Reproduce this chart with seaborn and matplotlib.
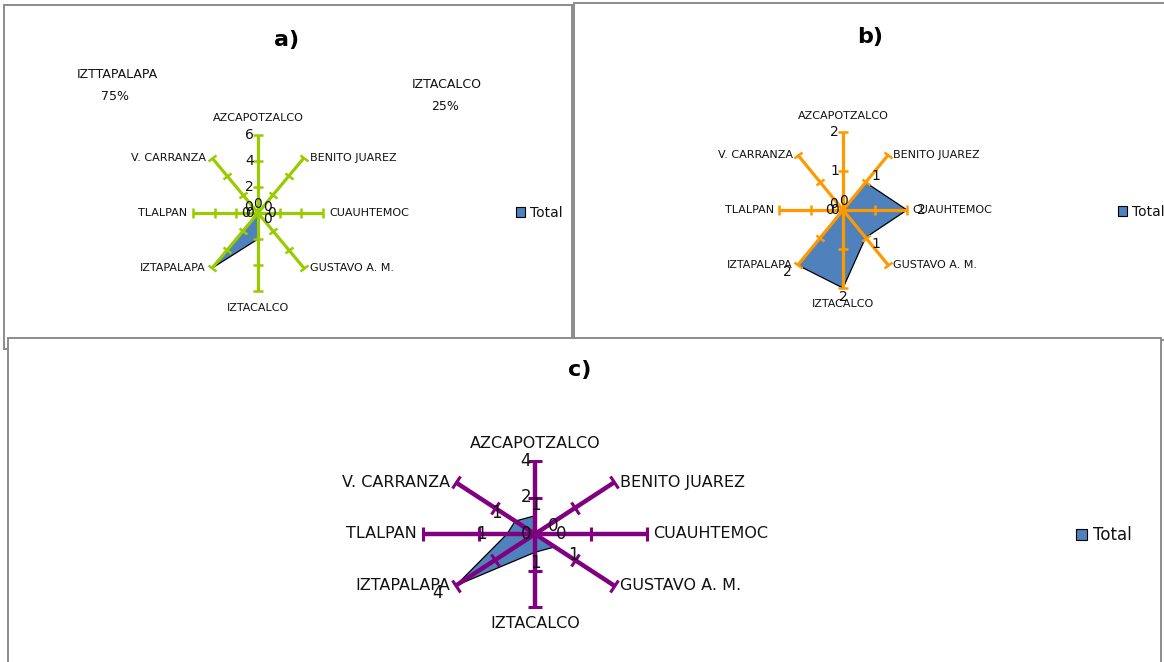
import numpy as np
import pandas as pd
import matplotlib
matplotlib.use("Agg")
import matplotlib.pyplot as plt
import seaborn as sns
from matplotlib.markers import MarkerStyle
from matplotlib.transforms import Affine2D
from matplotlib.patches import Rectangle, Patch

# Delegaciones (clockwise from the top)
categories = ["AZCAPOTZALCO", "BENITO JUAREZ", "CUAUHTEMOC", "GUSTAVO A. M.",
              "IZTACALCO", "IZTAPALAPA", "TLALPAN", "V. CARRANZA"]

# Totals per delegación for each panel
total_a = [0, 0, 0, 0, 2, 6, 0, 0]
total_b = [0, 1, 2, 1, 2, 2, 0, 0]
total_c = [1, 0, 0, 1, 1, 4, 1, 1]

# Radial value-axis ticks per panel
ticks_a = [0, 2, 4, 6]
ticks_b = [0, 1, 2]
ticks_c = [0, 2, 4]

# Detached data labels of panel a (share of the total)
share_names = ["IZTTAPALAPA", "IZTACALCO"]
share_pct = ["75%", "25%"]

W, H = 1164, 662
FILL = "#4F81BD"
INK = "#111111"

sns.set_theme(style="white")
plt.rcParams["font.family"] = ["DejaVu Sans"]

fig = plt.figure(figsize=(W / 100, H / 100), dpi=100)
fig.patch.set_facecolor("white")


def fbox(x0, y0, x1, y1):
    return [x0 / W, 1 - y1 / H, (x1 - x0) / W, (y1 - y0) / H]


def frame(x0, y0, x1, y1, z):
    fig.patches.append(Rectangle((x0 / W, 1 - y1 / H), (x1 - x0) / W, (y1 - y0) / H,
                                 transform=fig.transFigure, facecolor="white",
                                 edgecolor="#8c8c8c", lw=1.4, zorder=z))


frame(4, 5, 572, 349, -3)
frame(574, 3, 1170, 340, -3)
frame(8, 338, 1161, 670, -2)

PX = 0.72  # points per pixel at 100 dpi


def radar(box, values, ticks, color, spoke_lw, tick_ms, tick_mew,
          cat_fs, num_fs, cat_off, lab_off, show_labels):
    ax = fig.add_axes(fbox(*box), projection="polar")
    ax.set_facecolor("none")
    ax.set_theta_zero_location("N")
    ax.set_theta_direction(-1)
    rmax = ticks[-1]
    ax.set_ylim(0, rmax)
    ax.set_aspect("auto")
    ax.grid(False)
    ax.spines["polar"].set_visible(False)
    ax.set_xticks([])
    ax.set_yticks([])

    n = len(categories)
    theta = np.arange(n) * 2 * np.pi / n
    df = pd.DataFrame({"theta": np.append(theta, theta[0]),
                       "total": np.append(values, values[0]),
                       "cat": categories + [categories[0]]})

    # filled series polygon
    ax.fill(df["theta"], df["total"], color=FILL, zorder=2, lw=0, clip_on=False)
    sns.lineplot(data=df, x="theta", y="total", sort=False, estimator=None,
                 color="black", lw=0.9, ax=ax, zorder=3, clip_on=False)
    ax.set_xlabel("")
    ax.set_ylabel("")

    # category spokes with perpendicular tick marks
    bw = box[2] - box[0]
    bh = box[3] - box[1]
    for name, t in zip(categories, theta):
        ax.plot([t, t], [0, rmax], color=color, lw=spoke_lw, zorder=4,
                solid_capstyle="butt", clip_on=False)
        phi = np.degrees(np.arctan2(bh * np.cos(t), bw * np.sin(t)))
        mk = MarkerStyle("|", transform=Affine2D().rotate_deg(phi))
        ax.plot([t] * (len(ticks) - 1), ticks[1:], ls="none", marker=mk,
                ms=tick_ms, mew=tick_mew, color=color, zorder=5, clip_on=False)

        s, c = np.sin(t), np.cos(t)
        if abs(s) < 0.1:
            off = (0, cat_off[1] * np.sign(c))
            ha = "center"
        else:
            off = (cat_off[0] * np.sign(s), 0)
            ha = "left" if s > 0 else "right"
        ax.annotate(name, (t, rmax),
                    xytext=(off[0] * PX, off[1] * PX), textcoords="offset points",
                    ha=ha, va="center", fontsize=cat_fs, color=INK,
                    annotation_clip=False)

    # value-axis labels along the first spoke
    for v in ticks:
        ax.annotate(f"{v}", (0, v), xytext=(-4 * PX, 0), textcoords="offset points",
                    ha="right", va="center", fontsize=num_fs, color=INK,
                    annotation_clip=False, zorder=6)

    # data labels
    for t, v, show in zip(theta, values, show_labels):
        if not show:
            continue
        ax.annotate(f"{v}", (t, v),
                    xytext=(lab_off[0] * np.sin(t) * PX, lab_off[1] * np.cos(t) * PX),
                    textcoords="offset points", ha="center", va="center",
                    fontsize=num_fs, color=INK, annotation_clip=False, zorder=6)
    return ax


def legend(ax, x, y, fs):
    leg = ax.legend(handles=[Patch(facecolor=FILL, edgecolor="black", lw=0.8)],
                    labels=["Total"], loc="center left",
                    bbox_to_anchor=(x / W, 1 - y / H), bbox_transform=fig.transFigure,
                    frameon=False, handlelength=0.65, handleheight=0.65,
                    handletextpad=0.35, borderpad=0, borderaxespad=0, fontsize=fs)
    for txt in leg.get_texts():
        txt.set_color(INK)


ax_a = radar((193, 135, 323, 291), total_a, ticks_a, "#99CC00", 2.3, 7.5, 1.8,
             8, 10, (6, 17), (13, 9), [v == 0 for v in total_a])
ax_b = radar((779, 132, 907, 288), total_b, ticks_b, "#FF9900", 2.3, 7.5, 1.8,
             8, 10, (5, 16), (14, 9), [True] * 8)
ax_c = radar((423, 461, 647, 607), total_c, ticks_c, "#800080", 3.2, 9.5, 2.2,
             11.5, 12, (6, 17), (26, 11), [True] * 8)

legend(ax_a, 516, 213, 10)
legend(ax_b, 1118, 212, 10)
legend(ax_c, 1076, 535, 12)

# panel titles
fig.text(287 / W, 1 - 40 / H, "a)", ha="center", va="center", fontsize=16,
         fontweight="bold", color="black")
fig.text(870 / W, 1 - 37 / H, "b)", ha="center", va="center", fontsize=16,
         fontweight="bold", color="black")
fig.text(580 / W, 1 - 370 / H, "c)", ha="center", va="center", fontsize=16,
         fontweight="bold", color="black")

# moved data labels of panel a
for name, pct, (x, y) in zip(share_names, share_pct, [(117, 75), (447, 85)]):
    fig.text(x / W, 1 - y / H, name, ha="center", va="center", fontsize=9, color=INK)
    fig.text((x - 2) / W, 1 - (y + 22) / H, pct, ha="center", va="center", fontsize=9,
             color=INK)

fig.savefig("out.png", dpi=100, facecolor="white")
